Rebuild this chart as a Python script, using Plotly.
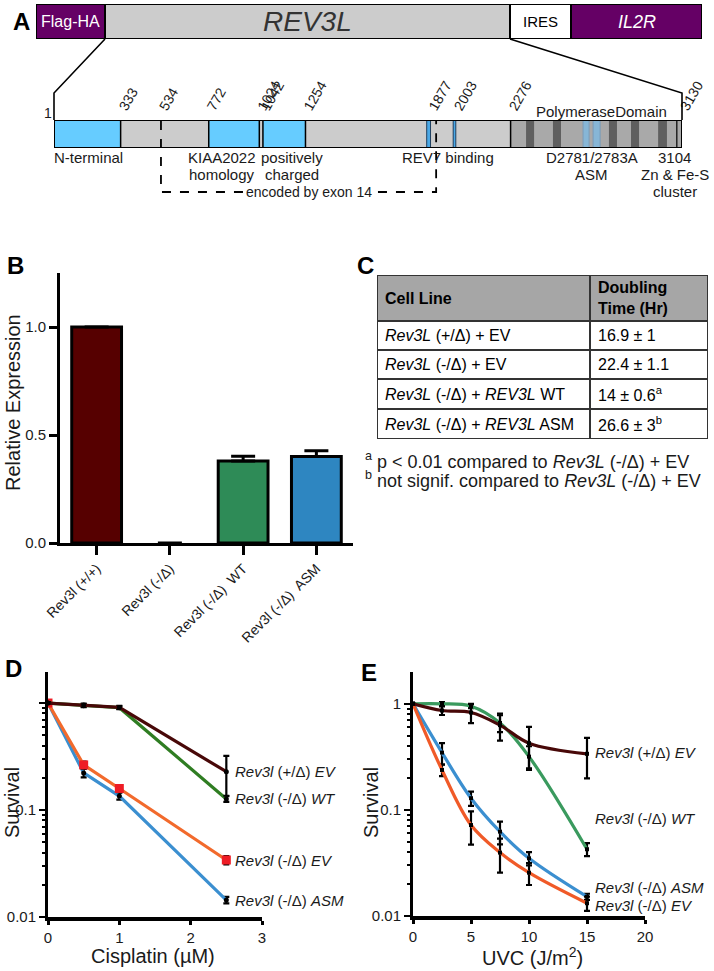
import math
import plotly.graph_objects as go

W, H = 714, 971
FONT = "Liberation Sans, Arial, Helvetica, sans-serif"
INK = "#1a1a1a"

# ---------------- Panel A : construct / domain map ----------------
CONSTRUCT_PARTS = ["Flag-HA", "REV3L", "IRES", "IL2R"]
CONSTRUCT_LEN = [69, 405, 61, 131]
PROTEIN_LEN = 3130
BLUE_DOMAINS = [(1, 333), (772, 1024), (1042, 1254)]
REV7_STRIPES = [(1858, 1877), (1990, 2003)]
POL_DOMAIN = (2276, 3130)
POL_DARK_BANDS = [(2353, 2393), (2487, 2527), (2766, 2806), (2876, 2916), (3011, 3055)]
POL_ASM_BANDS = [(2637, 2667), (2687, 2722)]
ZN_SITE = 3104
EXON14 = (534, 1905)
POSITION_TICKS = [1, 333, 534, 772, 1024, 1042, 1254, 1877, 2003, 2276, 3130]

# ---------------- Panel B : relative expression ----------------
EXPR_LABELS = ["Rev3l (+/+)", "Rev3l (-/Δ)", "Rev3l (-/Δ)  WT", "Rev3l (-/Δ)  ASM"]
EXPR_VALUES = [1.0, 0.0, 0.38, 0.40]
EXPR_ERR = [0.0, 0.0, 0.022, 0.027]
EXPR_COLORS = ["#560000", "#560000", "#2e8b57", "#2e86c1"]

# ---------------- Panel C : doubling time table ----------------
TABLE_HEADER = ["<b>Cell Line</b>", "<b>Doubling<br>Time (Hr)</b>"]
CELL_LINES = ["<i>Rev3L</i> (+/Δ) + EV", "<i>Rev3L</i> (-/Δ) + EV",
              "<i>Rev3L</i> (-/Δ) + <i>REV3L</i> WT", "<i>Rev3L</i> (-/Δ) + <i>REV3L</i> ASM"]
DT_MEAN = [16.9, 22.4, 14, 26.6]
DT_SD = [1, 1.1, 0.6, 3]
DT_NOTE = ["", "", "a", "b"]
FOOTNOTES = [("a", "p &lt; 0.01 compared to <i>Rev3L</i> (-/Δ) + EV"),
             ("b", "not signif. compared to <i>Rev3L</i> (-/Δ) + EV")]

# ---------------- Panel D : cisplatin survival ----------------
CIS_DOSE = [0, 0.5, 1, 2.5]
CIS_HET_EV = [1.0, 0.957, 0.91, 0.228]
CIS_HET_EV_ERR = [0.02, 0.03, 0.03, 0.092]
CIS_WT = [1.0, 0.945, 0.905, 0.127]
CIS_WT_ERR = [0.02, 0.03, 0.03, 0.008]
CIS_EV = [1.0, 0.264, 0.159, 0.0341]
CIS_EV_ERR = [0.03, 0.02, 0.012, 0.003]
CIS_ASM = [1.0, 0.222, 0.135, 0.0144]
CIS_ASM_ERR = [0.02, 0.02, 0.01, 0.001]

# ---------------- Panel E : UVC survival ----------------
UVC_DOSE = [0, 2.5, 5, 7.5, 10, 15]
UVC_HET_EV = [1.0, 0.865, 0.828, 0.63, 0.426, 0.338]
UVC_HET_EV_ERR = [0.0, 0.08, 0.17, 0.18, 0.18, 0.14]
UVC_WT = [1.0, 1.0, 0.95, 0.66, 0.318, 0.0426]
UVC_WT_ERR = [0.0, 0.04, 0.04, 0.12, 0.08, 0.006]
UVC_ASM = [1.0, 0.347, 0.129, 0.0624, 0.035, 0.0152]
UVC_ASM_ERR = [0.0, 0.08, 0.02, 0.015, 0.005, 0.001]
UVC_EV = [1.0, 0.238, 0.072, 0.0396, 0.0256, 0.0132]
UVC_EV_ERR = [0.0, 0.03, 0.025, 0.014, 0.006, 0.002]

SERIES_NAMES = ["<i>Rev3l</i> (+/Δ) <i>EV</i>", "<i>Rev3l</i> (-/Δ) <i>WT</i>",
                "<i>Rev3l</i> (-/Δ) <i>EV</i>", "<i>Rev3l</i> (-/Δ) <i>ASM</i>"]
C_BROWN, C_GREEN, C_ORANGE, C_BLUE = "#480808", "#2f7d22", "#f26a2c", "#3b8fd0"
C_GREEN_E = "#3a9a5e"


def px(p):
    return p / W


def py(p):
    return 1 - p / H


fig = go.Figure()
shapes, annos = [], []


def note(**kw):
    kw.setdefault("showarrow", False)
    kw.setdefault("xanchor", "center")
    kw.setdefault("yanchor", "middle")
    annos.append(kw)


# ======================= Panel A =======================
ca_dom = [px(36), px(702)]
cons_total = sum(CONSTRUCT_LEN)
part_fill = ["#650065", "#cccccc", "#ffffff", "#650065"]
part_font = [dict(size=16, color="white"), dict(size=28, color="#333333"),
             dict(size=15, color="black"), dict(size=18, color="white")]
part_text = ["Flag-HA", "<i>REV3L</i>", "IRES", "<i>IL2R</i>"]
cum = 0
cons_edges = []
for i, ln in enumerate(CONSTRUCT_LEN):
    shapes.append(dict(type="rect", xref="x4", yref="y4", x0=cum, x1=cum + ln, y0=0, y1=1,
                       fillcolor=part_fill[i], line=dict(color="black", width=2), layer="above"))
    note(xref="x4", yref="y4", x=cum + ln / 2, y=0.5, text=part_text[i],
         font=dict(family=FONT, **part_font[i]))
    cons_edges.append((cum, cum + ln))
    cum += ln

dm_dom = [px(54), px(682)]


def cons_to_paper(u):
    return ca_dom[0] + (u / cons_total) * (ca_dom[1] - ca_dom[0])


def aa_to_paper(a):
    return dm_dom[0] + (a - 1) / (PROTEIN_LEN - 1) * (dm_dom[1] - dm_dom[0])


rev_l, rev_r = cons_edges[1]
for xa, xb in [(cons_to_paper(rev_l), aa_to_paper(1)), (cons_to_paper(rev_r), aa_to_paper(PROTEIN_LEN))]:
    shapes.append(dict(type="path", xref="paper", yref="paper",
                       path=f"M {xa},{py(39)} L {xb},{py(93)} L {xb},{py(120)}",
                       line=dict(color="black", width=1.6)))

shapes.append(dict(type="rect", xref="x5", yref="y5", x0=1, x1=PROTEIN_LEN, y0=0, y1=1,
                   fillcolor="#cccccc", line=dict(width=0)))
shapes.append(dict(type="rect", xref="x5", yref="y5", x0=POL_DOMAIN[0], x1=POL_DOMAIN[1], y0=0, y1=1,
                   fillcolor="#a9a9a9", line=dict(width=0)))
for a0, a1 in POL_DARK_BANDS:
    shapes.append(dict(type="rect", xref="x5", yref="y5", x0=a0, x1=a1, y0=0, y1=1,
                       fillcolor="#5f5f5f", line=dict(width=0)))
for a0, a1 in POL_ASM_BANDS:
    shapes.append(dict(type="rect", xref="x5", yref="y5", x0=a0, x1=a1, y0=0, y1=1,
                       fillcolor="#87b6d6", line=dict(color="#7a9cb8", width=1)))
shapes.append(dict(type="line", xref="x5", yref="y5", x0=ZN_SITE, x1=ZN_SITE, y0=0, y1=1,
                   line=dict(color="#222222", width=1.5)))
shapes.append(dict(type="line", xref="x5", yref="y5", x0=POL_DOMAIN[0], x1=POL_DOMAIN[0], y0=0, y1=1,
                   line=dict(color="black", width=1.5)))
for a0, a1 in BLUE_DOMAINS:
    shapes.append(dict(type="rect", xref="x5", yref="y5", x0=a0, x1=a1, y0=0, y1=1,
                       fillcolor="#66ccff", line=dict(color="black", width=1.5)))
for a0, a1 in REV7_STRIPES:
    shapes.append(dict(type="rect", xref="x5", yref="y5", x0=a0, x1=a1, y0=0, y1=1,
                       fillcolor="#4aa8e6", line=dict(color="#1f3f5f", width=1)))
shapes.append(dict(type="rect", xref="x5", yref="y5", x0=1, x1=PROTEIN_LEN, y0=0, y1=1,
                   fillcolor="rgba(0,0,0,0)", line=dict(color="black", width=2)))

shapes.append(dict(type="path", xref="x5", yref="paper",
                   path=f"M {EXON14[0]},{py(121)} L {EXON14[0]},{py(192)} L {EXON14[1]},{py(192)} L {EXON14[1]},{py(121)}",
                   line=dict(color="black", width=1.8, dash="dash")))
note(xref="x5", yref="paper", x=(EXON14[0] + EXON14[1]) / 2, y=py(192), xshift=10,
     text="encoded by exon 14", bgcolor="white", borderpad=1,
     font=dict(family=FONT, size=14, color=INK))

# residue "1" sits upright; the other positions are rotated tick labels of the domain axis
note(xref="x5", yref="paper", x=POSITION_TICKS[0], y=py(113), xshift=-6, text=str(POSITION_TICKS[0]),
     font=dict(family=FONT, size=14, color=INK))

note(xref="x5", yref="paper", x=(POL_DOMAIN[0] + POL_DOMAIN[1]) / 2, y=py(112), xshift=5,
     text="PolymeraseDomain", font=dict(family=FONT, size=15, color=INK))
dom_labels = [
    (BLUE_DOMAINS[0][0], ["N-terminal"], "left", -2),
    ((BLUE_DOMAINS[1][0] + BLUE_DOMAINS[1][1]) / 2, ["KIAA2022", "homology"], "center", -12),
    ((BLUE_DOMAINS[2][0] + BLUE_DOMAINS[2][1]) / 2, ["positively", "charged"], "center", 8),
    ((REV7_STRIPES[0][1] + REV7_STRIPES[1][1]) / 2, ["REV7 binding"], "center", 5),
    ((POL_ASM_BANDS[0][0] + POL_ASM_BANDS[1][1]) / 2, ["D2781/2783A", "ASM"], "center", 0),
    (ZN_SITE, ["3104", "Zn &amp; Fe-S", "cluster"], "center", -2),
]
for xa, lines, anc, sh in dom_labels:
    for k, txt in enumerate(lines):
        note(xref="x5", yref="paper", x=xa, y=py(157 + 17.5 * k), xanchor=anc, xshift=sh,
             text=txt, font=dict(family=FONT, size=15, color=INK))

# ======================= Panel B =======================
fig.add_trace(go.Bar(
    x=EXPR_LABELS, y=EXPR_VALUES, width=0.68,
    marker=dict(color=EXPR_COLORS,
                line=dict(color="black", width=[3 if v > 0 else 0 for v in EXPR_VALUES])),
    error_y=dict(type="data", array=EXPR_ERR, arrayminus=[0] * len(EXPR_ERR),
                 color="black", thickness=3, width=12),
    xaxis="x", yaxis="y", hoverinfo="skip"))

# ======================= Panel C (table drawn on its own axis) =======================
COL_W = [213, 118]
ROW_H = [46, 29, 29, 30, 30]
doubling = [f"{m:g} ± {s:g}" + (f"<sup>{n}</sup>" if n else "") for m, s, n in zip(DT_MEAN, DT_SD, DT_NOTE)]
table_rows = [TABLE_HEADER] + [[c, d] for c, d in zip(CELL_LINES, doubling)]
col_x = [0, COL_W[0], COL_W[0] + COL_W[1]]
ytop = 0
for r, row in enumerate(table_rows):
    for c, txt in enumerate(row):
        shapes.append(dict(type="rect", xref="x6", yref="y6", x0=col_x[c], x1=col_x[c + 1],
                           y0=ytop, y1=ytop + ROW_H[r],
                           fillcolor="#a6a6a6" if r == 0 else "white",
                           line=dict(color="#333333", width=2)))
        note(xref="x6", yref="y6", x=col_x[c], y=ytop + ROW_H[r] / 2, xanchor="left", xshift=6,
             text=txt, align="left", font=dict(family=FONT, size=16, color="black"))
    ytop += ROW_H[r]

for i, (mark, txt) in enumerate(FOOTNOTES):
    note(xref="paper", yref="paper", x=px(363), y=py(460 + 19 * i), xanchor="left",
         text=f"<sup>{mark}</sup> {txt}", font=dict(family=FONT, size=18, color=INK))


# ======================= Panel D / E =======================
def add_curve(xv, yv, err, color, xa, ya, shape, marker):
    fig.add_trace(go.Scatter(
        x=xv, y=yv, mode="lines+markers", xaxis=xa, yaxis=ya, hoverinfo="skip",
        line=dict(color=color, width=3.2, shape=shape, smoothing=1.0),
        marker=marker,
        error_y=dict(type="data", array=err, color="black", thickness=2.2, width=3)))


dot = dict(color="black", size=5, symbol="circle")
add_curve(CIS_DOSE, CIS_ASM, CIS_ASM_ERR, C_BLUE, "x2", "y2", "linear", dot)
add_curve(CIS_DOSE, CIS_EV, CIS_EV_ERR, C_ORANGE, "x2", "y2", "linear",
          dict(color="#ee1c25", size=9, symbol="square"))
add_curve(CIS_DOSE, CIS_WT, CIS_WT_ERR, C_GREEN, "x2", "y2", "linear", dot)
add_curve(CIS_DOSE, CIS_HET_EV, CIS_HET_EV_ERR, C_BROWN, "x2", "y2", "linear", dot)

sq = dict(color="black", size=4, symbol="square")
add_curve(UVC_DOSE, UVC_ASM, UVC_ASM_ERR, C_BLUE, "x3", "y3", "spline", sq)
add_curve(UVC_DOSE, UVC_EV, UVC_EV_ERR, "#f05a28", "x3", "y3", "spline", sq)
add_curve(UVC_DOSE, UVC_WT, UVC_WT_ERR, C_GREEN_E, "x3", "y3", "spline", sq)
add_curve(UVC_DOSE, UVC_HET_EV, UVC_HET_EV_ERR, C_BROWN, "x3", "y3", "spline", sq)

d_last = [CIS_HET_EV[-1], CIS_WT[-1], CIS_EV[-1], CIS_ASM[-1]]
for name, v in zip(SERIES_NAMES, d_last):
    note(xref="x2", yref="y2", x=CIS_DOSE[-1], y=math.log10(v), xanchor="left", xshift=7,
         text=name, font=dict(family=FONT, size=15, color=INK))
e_last = [UVC_HET_EV[-1], UVC_WT[-1], UVC_ASM[-1], UVC_EV[-1]]
e_names = [SERIES_NAMES[0], SERIES_NAMES[1], SERIES_NAMES[3], SERIES_NAMES[2]]
e_shift = [1, 31, 9, -2]
for name, v, s in zip(e_names, e_last, e_shift):
    note(xref="x3", yref="y3", x=UVC_DOSE[-1], y=math.log10(v), xanchor="left", xshift=6,
         yshift=s, text=name, font=dict(family=FONT, size=15, color=INK))

for letter, x0, y0 in [("A", 21, 21), ("B", 15, 265), ("C", 366, 265), ("D", 13, 668), ("E", 369, 672)]:
    note(xref="paper", yref="paper", x=px(x0), y=py(y0), text=f"<b>{letter}</b>",
         font=dict(family=FONT, size=24, color="black"))

for txt, x0, y0, ang in [("Relative Expression", 13, 403, -90), ("Survival", 12, 803, -90),
                         ("Cisplatin (µM)", 153, 956, 0), ("Survival", 371, 803, -90),
                         ("UVC (J/m<sup>2</sup>)", 532, 956, 0)]:
    note(xref="paper", yref="paper", x=px(x0), y=py(y0), text=txt, textangle=ang,
         font=dict(family=FONT, size=20, color=INK))

tickfont = dict(family=FONT, size=15, color=INK)
minor_vals = [m * 10 ** e for e in (-2, -1, 0) for m in range(2, 10)]
minor = dict(tickvals=minor_vals, ticks="outside", ticklen=3, tickwidth=1.5, tickcolor="black", showgrid=False)
common = dict(showline=True, linecolor="black", showgrid=False, zeroline=False,
              ticks="outside", tickcolor="black", automargin=False)
hidden = dict(visible=False, automargin=False, showgrid=False, zeroline=False)

fig.update_layout(
    template="none",
    width=W, height=H, margin=dict(l=0, r=0, t=0, b=0, pad=0), autosize=False,
    paper_bgcolor="white", plot_bgcolor="rgba(0,0,0,0)", showlegend=False,
    font=dict(family=FONT, color=INK),
    shapes=shapes, annotations=annos,
    xaxis=dict(domain=[px(60), px(353)], range=[-0.5, 3.5], type="category", anchor="y",
               linewidth=3, ticklen=9, tickwidth=3, tickangle=-45,
               tickfont=dict(family=FONT, size=14, color=INK), **common),
    yaxis=dict(domain=[py(543), py(273)], range=[0, 1.25], anchor="x",
               tickvals=[0, 0.5, 1.0], ticktext=["0.0", "0.5", "1.0"],
               linewidth=3, ticklen=8, tickwidth=3, tickfont=tickfont, **common),
    xaxis2=dict(domain=[px(48), px(262)], range=[0, 3], anchor="y2", tickvals=[0, 1, 2, 3],
                linewidth=4, ticklen=4, tickwidth=3, tickfont=tickfont, **common),
    yaxis2=dict(domain=[py(917), py(672)], type="log", range=[-2, 0.29], anchor="x2",
                tickvals=[0.01, 0.1, 1], ticktext=["0.01", "0.1", ""], minor=minor,
                linewidth=3, ticklen=6, tickwidth=2, tickfont=tickfont, **common),
    xaxis3=dict(domain=[px(413), px(645)], range=[0, 20], anchor="y3", tickvals=[0, 5, 10, 15, 20],
                linewidth=4, ticklen=4, tickwidth=3, tickfont=tickfont, **common),
    yaxis3=dict(domain=[py(916), py(672)], type="log", range=[-2, 0.3], anchor="x3",
                tickvals=[0.01, 0.1, 1], ticktext=["0.01", "0.1", "1"], minor=minor,
                linewidth=3, ticklen=6, tickwidth=2, tickfont=tickfont, **common),
    xaxis4=dict(domain=ca_dom, range=[0, cons_total], anchor="y4", **hidden),
    yaxis4=dict(domain=[py(39), py(4)], range=[0, 1], anchor="x4", **hidden),
    xaxis5=dict(domain=dm_dom, range=[1, PROTEIN_LEN], anchor="y5", side="top",
                visible=True, showline=False, showgrid=False, zeroline=False, ticks="",
                tickmode="array", tickvals=POSITION_TICKS[1:], ticktext=[str(p) for p in POSITION_TICKS[1:]],
                tickangle=-60, ticklabelstandoff=1, automargin=False,
                tickfont=dict(family=FONT, size=14, color=INK)),
    yaxis5=dict(domain=[py(148), py(120)], range=[0, 1], anchor="x5", **hidden),
    xaxis6=dict(domain=[px(377), px(708)], range=[0, sum(COL_W)], anchor="y6", **hidden),
    yaxis6=dict(domain=[py(439), py(275)], range=[sum(ROW_H), 0], anchor="x6", **hidden),
)

fig.write_html("out.html", config={"displayModeBar": False},
               post_script="document.body.style.margin='0';")
